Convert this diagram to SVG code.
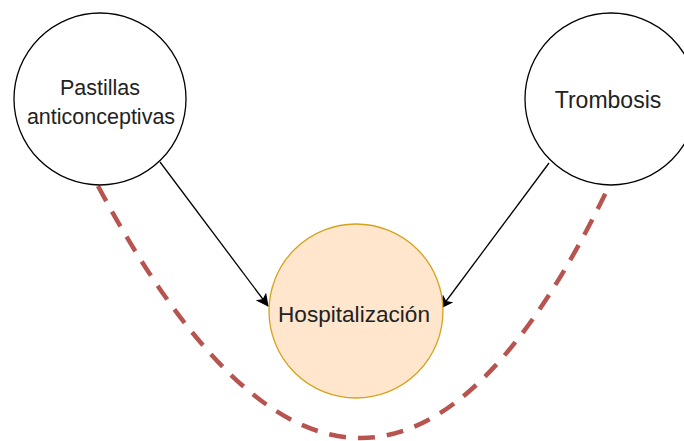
<svg xmlns="http://www.w3.org/2000/svg" width="684" height="441" viewBox="0 0 684 441">
  <style>
    .node { fill: #ffffff; stroke: #000000; stroke-width: 1.3; }
    .focus { fill: #ffe6cc; stroke: #d6a21e; stroke-width: 1.3; }
    .label { font-family: "Liberation Sans", Arial, sans-serif; fill: #222222; text-anchor: middle; }
    .edge { fill: none; stroke: #000000; stroke-width: 1.3; }
    .path-link { fill: none; stroke: #b85450; stroke-width: 4.5; stroke-dasharray: 17 12; }
  </style>
  <defs>
    <marker id="arrow" viewBox="0 0 12 12" refX="11" refY="6" markerWidth="13" markerHeight="13" markerUnits="userSpaceOnUse" orient="auto">
      <path d="M0,0 L12,6 L0,12 L3,6 Z" fill="#000000"/>
    </marker>
  </defs>
  <rect width="684" height="441" fill="#ffffff"/>

  <g id="connectors">
    <path class="path-link" d="M98,186 Q367,689 608,188"/>
    <line class="edge" x1="160" y1="162" x2="268" y2="306" marker-end="url(#arrow)"/>
    <line class="edge" x1="549" y1="163" x2="441" y2="308" marker-end="url(#arrow)"/>
  </g>

  <g id="node-pastillas">
    <circle class="node" cx="100" cy="99" r="86"/>
    <text class="label" x="100" y="95" font-size="21.5">Pastillas</text>
    <text class="label" x="101" y="124" font-size="21.5">anticonceptivas</text>
  </g>

  <g id="node-trombosis">
    <circle class="node" cx="611" cy="99" r="86"/>
    <text class="label" x="608" y="108" font-size="23">Trombosis</text>
  </g>

  <g id="node-hospitalizacion">
    <circle class="focus" cx="356" cy="311" r="87"/>
    <text class="label" x="354" y="322" font-size="22.6">Hospitalización</text>
  </g>
</svg>
